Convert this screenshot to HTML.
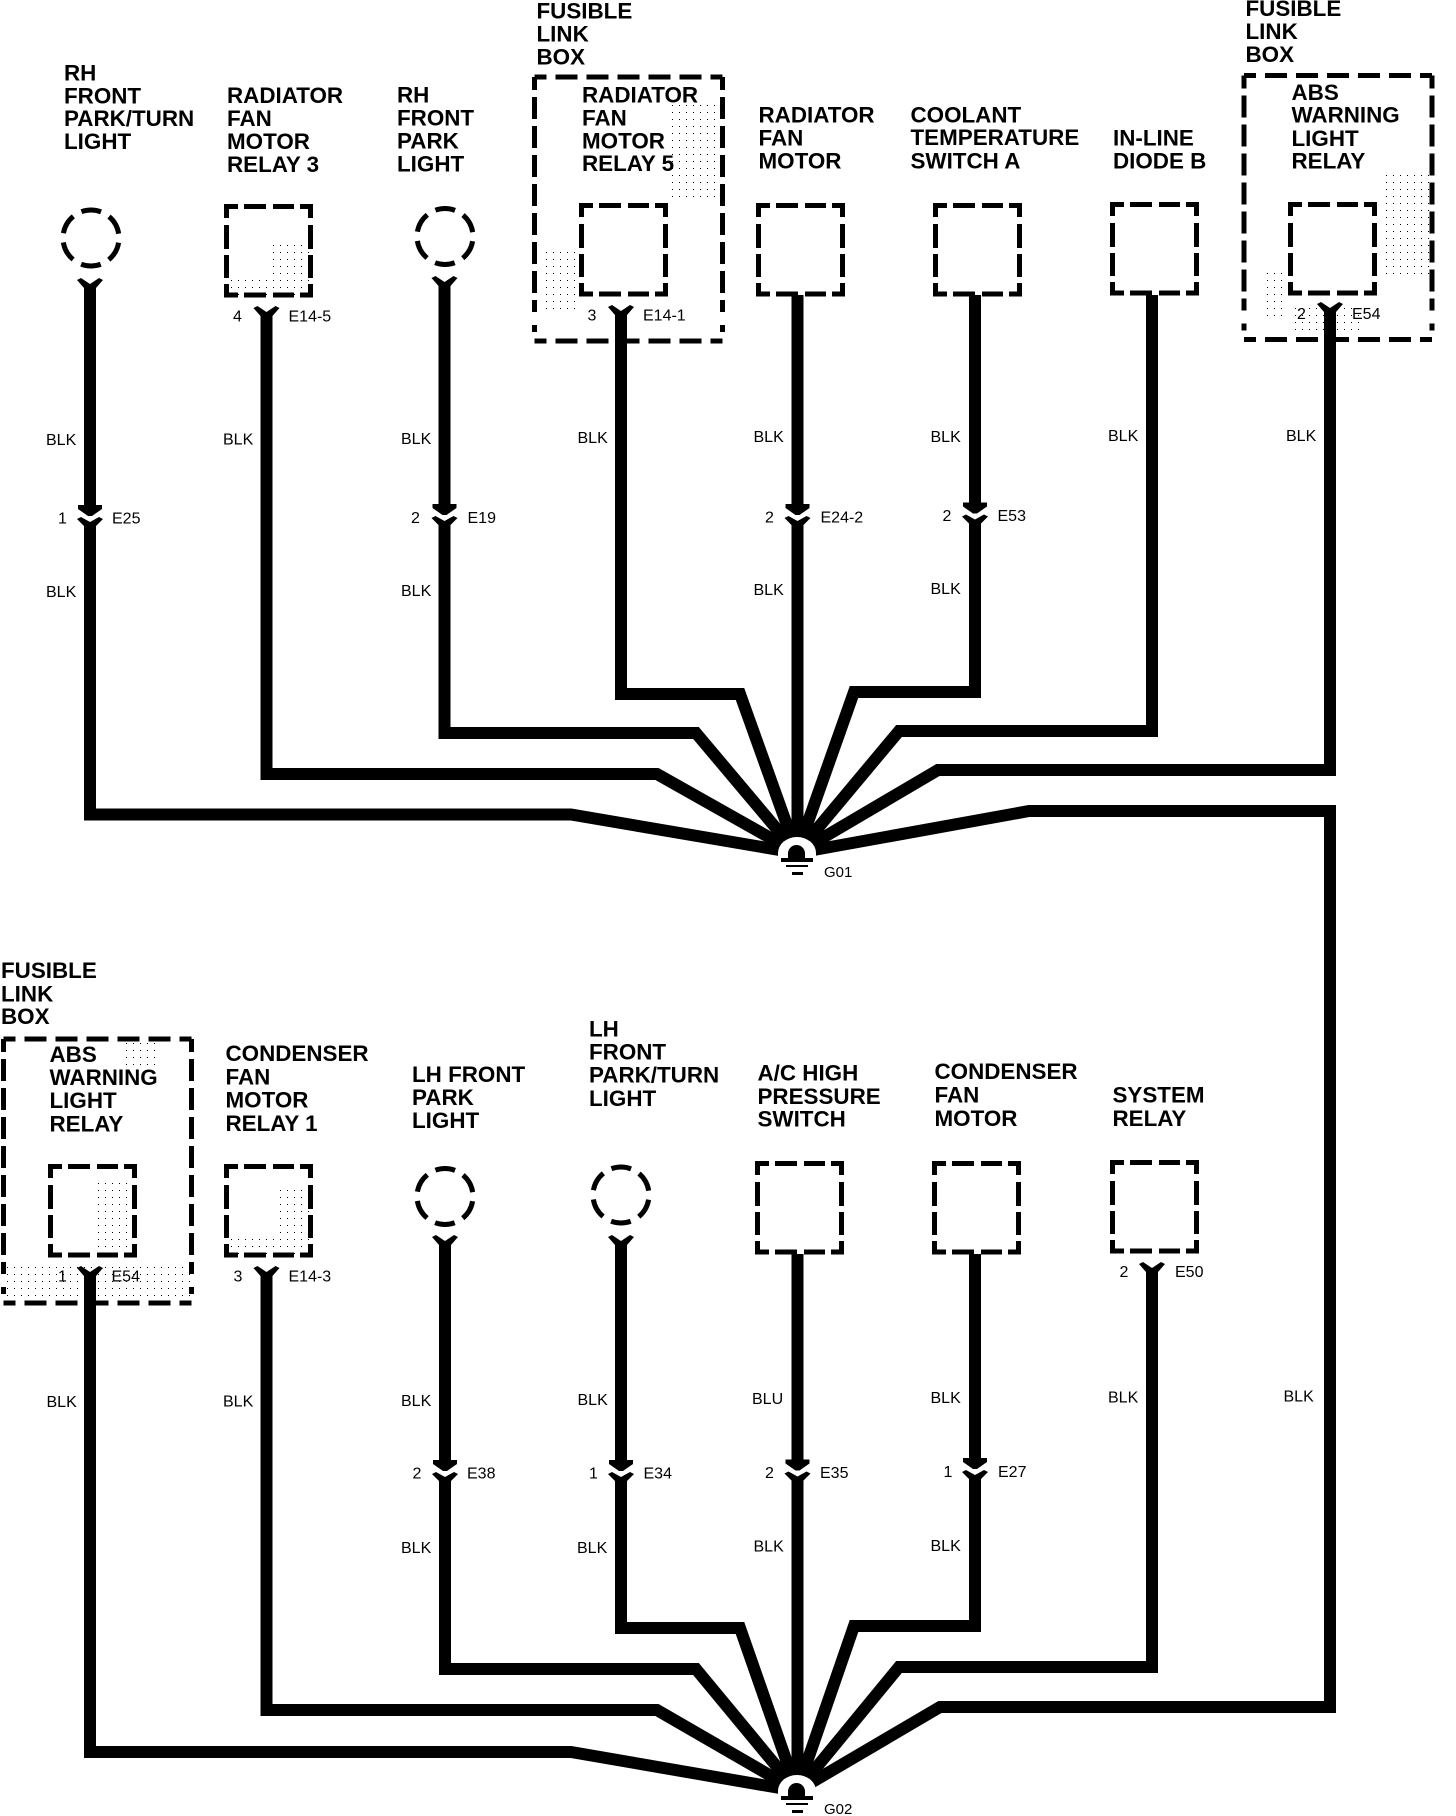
<!DOCTYPE html>
<html lang="en"><head><meta charset="utf-8"><title>Ground distribution wiring diagram</title>
<style>
html,body{margin:0;padding:0;background:#fff}
svg{display:block}
.t{font:bold 22.4px "Liberation Sans",sans-serif;fill:#000}
.s{font:16px "Liberation Sans",sans-serif;fill:#000}
.g{font:15px "Liberation Sans",sans-serif;fill:#000}
.w{fill:none;stroke:#000;stroke-width:12;stroke-linejoin:miter}
.d{fill:none;stroke:#000;stroke-width:5}
</style></head><body>
<svg xmlns="http://www.w3.org/2000/svg" width="1456" height="1816" viewBox="0 0 1456 1816">
<defs>
<pattern id="dots" width="7" height="7" patternUnits="userSpaceOnUse"><rect width="1" height="1" fill="#000"/></pattern>
<path id="box" class="d" d="M2.5,14V2.5H14M20,2.5H42M49,2.5H70M76,2.5H86.5V14M2.5,21V45M2.5,51V74M2.5,80V91H14M20,91H42M49,91H70M76,91H86.5V80M86.5,21V45M86.5,51V74"/>
<g id="big" class="d">
<path d="M0,0H188" stroke-dasharray="12 9 22 9 22 9 22 9 22 9 22 9 12"/>
<path d="M0,264H188" stroke-dasharray="12 9 22 9 22 9 22 9 22 9 22 9 12"/>
<path d="M0,0V264" stroke-dasharray="13 7 22 7 22 7 22 7 22 7 22 7 22 7 22 7 12"/>
<path d="M188,0V264" stroke-dasharray="13 7 22 7 22 7 22 7 22 7 22 7 22 7 22 7 12"/>
</g>
<circle id="lamp" class="d" r="28" stroke-dasharray="20 9.32" stroke-dashoffset="-4.7"/>
<polygon id="y" points="-13,1 -9,-1 0,5 9,-1 13,1 6,9 6,12 -6,12 -6,9"/>
<g id="mid">
<polygon points="-6,-16 6,-16 6,-13 12,-13 12,-9 2,-2 -2,-2 -12,-9 -12,-13 -6,-13"/>
<polygon points="-13,1 -9,-1 0,4 9,-1 13,1 6,8 6,11 -6,11 -6,8"/>
</g>
<g id="gnd">
<path d="M778,855V853A19,16 0 0 1 816,853V882H778Z" fill="#fff"/>
<path d="M788,858V853.500A8.500,8.500 0 0 1 805,853.500V858Z"/>
<rect x="781" y="858" width="32" height="4"/>
<rect x="786" y="865" width="22" height="2"/>
<rect x="792" y="872" width="11" height="3"/>
</g>
</defs>

<!-- faint print stipple -->
<rect x="270" y="240" width="40" height="55" fill="url(#dots)"/>
<rect x="228" y="275" width="40" height="20" fill="url(#dots)"/>
<rect x="545" y="250" width="30" height="60" fill="url(#dots)"/>
<rect x="670" y="100" width="50" height="100" fill="url(#dots)"/>
<rect x="1380" y="170" width="50" height="110" fill="url(#dots)"/>
<rect x="1265" y="270" width="20" height="50" fill="url(#dots)"/>
<rect x="1295" y="305" width="70" height="30" fill="url(#dots)"/>
<rect x="120" y="1040" width="40" height="30" fill="url(#dots)"/>
<rect x="95" y="1180" width="38" height="70" fill="url(#dots)"/>
<rect x="5" y="1262" width="185" height="40" fill="url(#dots)"/>
<rect x="275" y="1185" width="36" height="70" fill="url(#dots)"/>
<rect x="228" y="1235" width="48" height="20" fill="url(#dots)"/>

<!-- top wires -->
<path class="w" d="M90,285V508M90,523V814.500H571L797,853"/>
<path class="w" d="M266.500,313V774H657L797,853"/>
<path class="w" d="M444.500,283V507M444.500,522V733H696L797,853"/>
<path class="w" d="M621,312V694H740L797,853"/>
<path class="w" d="M797.500,295V507M797.500,522V853"/>
<path class="w" d="M975,295V505M975,521V692H854L797,853"/>
<path class="w" d="M1152,295V731H899L797,853"/>
<path class="w" d="M1330,309V770H938L797,853"/>
<path class="w" d="M797,853L1029,811H1330V1707H940L797,1791"/>

<!-- bottom wires -->
<path class="w" d="M90,1273V1752H571L797,1791"/>
<path class="w" d="M266.500,1273V1710H657L797,1791"/>
<path class="w" d="M445,1242V1463M445,1478V1669H696L797,1791"/>
<path class="w" d="M621,1242V1463M621,1478V1628H740L797,1791"/>
<path class="w" d="M797.500,1254V1462M797.500,1478V1791"/>
<path class="w" d="M975,1254V1461M975,1476V1626H854L797,1791"/>
<path class="w" d="M1152,1269V1667H899L797,1791"/>

<!-- Y connectors -->
<use href="#y" x="90" y="279"/><use href="#y" x="266.500" y="307"/><use href="#y" x="444.500" y="277"/>
<use href="#y" x="621" y="306"/><use href="#y" x="1330" y="303"/>
<use href="#y" x="90" y="1267"/><use href="#y" x="266.500" y="1267"/><use href="#y" x="445" y="1236"/>
<use href="#y" x="621" y="1236"/><use href="#y" x="1152" y="1263"/>

<!-- inline connectors -->
<use href="#mid" x="90" y="518"/><use href="#mid" x="444.500" y="517"/><use href="#mid" x="797.500" y="517"/><use href="#mid" x="975" y="515.500"/>
<use href="#mid" x="445" y="1473"/><use href="#mid" x="621" y="1473"/><use href="#mid" x="797.500" y="1472.500"/><use href="#mid" x="975" y="1471"/>

<!-- lamps -->
<use href="#lamp" x="91" y="238"/><use href="#lamp" x="445" y="236.500"/>
<use href="#lamp" x="445" y="1196.500"/><use href="#lamp" x="621" y="1195"/>

<!-- boxes -->
<use href="#box" x="224" y="204"/><use href="#box" x="579" y="203"/><use href="#box" x="756" y="203"/>
<use href="#box" x="933" y="203"/><use href="#box" x="1110" y="202"/><use href="#box" x="1288" y="202"/>
<use href="#box" x="48" y="1164"/><use href="#box" x="224" y="1164"/><use href="#box" x="755" y="1161"/>
<use href="#box" x="932" y="1161"/><use href="#box" x="1110" y="1160"/>
<use href="#big" x="534.500" y="77"/><use href="#big" x="1244" y="75.500"/><use href="#big" x="3.500" y="1039"/>

<!-- grounds -->
<use href="#gnd"/><use href="#gnd" y="938"/>
<text class="g" x="824" y="877">G01</text><text class="g" x="824" y="1814">G02</text>

<!-- top titles -->
<text class="t" x="64" y="80.500">RH</text><text class="t" x="64" y="103.500">FRONT</text><text class="t" x="64" y="126">PARK/TURN</text><text class="t" x="64" y="149">LIGHT</text>
<text class="t" x="227" y="103">RADIATOR</text><text class="t" x="227" y="126">FAN</text><text class="t" x="227" y="149">MOTOR</text><text class="t" x="227" y="172">RELAY 3</text>
<text class="t" x="397" y="102.500">RH</text><text class="t" x="397" y="125.500">FRONT</text><text class="t" x="397" y="148.500">PARK</text><text class="t" x="397" y="171.500">LIGHT</text>
<text class="t" x="536.500" y="18.500">FUSIBLE</text><text class="t" x="536.500" y="41.500">LINK</text><text class="t" x="536.500" y="64.500">BOX</text>
<text class="t" x="582" y="102.500">RADIATOR</text><text class="t" x="582" y="125.500">FAN</text><text class="t" x="582" y="148.500">MOTOR</text><text class="t" x="582" y="171">RELAY 5</text>
<text class="t" x="758.500" y="122.500">RADIATOR</text><text class="t" x="758.500" y="145.500">FAN</text><text class="t" x="758.500" y="168.500">MOTOR</text>
<text class="t" x="910.500" y="122.500">COOLANT</text><text class="t" x="910.500" y="145">TEMPERATURE</text><text class="t" x="910.500" y="168.500">SWITCH A</text>
<text class="t" x="1113" y="145.500">IN-LINE</text><text class="t" x="1113" y="168.500">DIODE B</text>
<text class="t" x="1245.500" y="16">FUSIBLE</text><text class="t" x="1245.500" y="39">LINK</text><text class="t" x="1245.500" y="62">BOX</text>
<text class="t" x="1291.500" y="100">ABS</text><text class="t" x="1291.500" y="122.500">WARNING</text><text class="t" x="1291.500" y="146">LIGHT</text><text class="t" x="1291.500" y="168.500">RELAY</text>

<!-- bottom titles -->
<text class="t" x="1" y="978">FUSIBLE</text><text class="t" x="1" y="1001.500">LINK</text><text class="t" x="1" y="1024">BOX</text>
<text class="t" x="49.500" y="1062">ABS</text><text class="t" x="49.500" y="1085">WARNING</text><text class="t" x="49.500" y="1108">LIGHT</text><text class="t" x="49.500" y="1131.500">RELAY</text>
<text class="t" x="225.500" y="1061">CONDENSER</text><text class="t" x="225.500" y="1084.500">FAN</text><text class="t" x="225.500" y="1107.500">MOTOR</text><text class="t" x="225.500" y="1131">RELAY 1</text>
<text class="t" x="412" y="1082">LH FRONT</text><text class="t" x="412" y="1105">PARK</text><text class="t" x="412" y="1128">LIGHT</text>
<text class="t" x="589" y="1036.500">LH</text><text class="t" x="589" y="1059.500">FRONT</text><text class="t" x="589" y="1082.500">PARK/TURN</text><text class="t" x="589" y="1106">LIGHT</text>
<text class="t" x="757.500" y="1080.500">A/C HIGH</text><text class="t" x="757.500" y="1104">PRESSURE</text><text class="t" x="757.500" y="1126.500">SWITCH</text>
<text class="t" x="934.500" y="1079">CONDENSER</text><text class="t" x="934.500" y="1102.500">FAN</text><text class="t" x="934.500" y="1126">MOTOR</text>
<text class="t" x="1112.500" y="1102.500">SYSTEM</text><text class="t" x="1112.500" y="1126">RELAY</text>

<!-- top small labels -->
<text class="s" x="46" y="445">BLK</text><text class="s" x="46" y="597">BLK</text>
<text class="s" x="223" y="444.500">BLK</text>
<text class="s" x="401" y="444">BLK</text><text class="s" x="401" y="596">BLK</text>
<text class="s" x="577.500" y="443">BLK</text>
<text class="s" x="753.500" y="442">BLK</text><text class="s" x="753.500" y="595">BLK</text>
<text class="s" x="930.500" y="442">BLK</text><text class="s" x="930.500" y="594">BLK</text>
<text class="s" x="1108" y="441">BLK</text><text class="s" x="1286" y="441">BLK</text>
<text class="s" x="58" y="523.500">1</text><text class="s" x="112" y="523.500">E25</text>
<text class="s" x="411" y="523">2</text><text class="s" x="467.500" y="523">E19</text>
<text class="s" x="233" y="321.500">4</text><text class="s" x="288.500" y="321.500">E14-5</text>
<text class="s" x="587.500" y="320.500">3</text><text class="s" x="643" y="320.500">E14-1</text>
<text class="s" x="765" y="522.500">2</text><text class="s" x="820.500" y="522.500">E24-2</text>
<text class="s" x="942.500" y="521">2</text><text class="s" x="997.500" y="521">E53</text>
<text class="s" x="1297" y="319">2</text><text class="s" x="1352" y="319">E54</text>

<!-- bottom small labels -->
<text class="s" x="58" y="1281.500">1</text><text class="s" x="111.500" y="1281.500">E54</text>
<text class="s" x="233.500" y="1281.500">3</text><text class="s" x="288.500" y="1281.500">E14-3</text>
<text class="s" x="1119.500" y="1277">2</text><text class="s" x="1175" y="1277">E50</text>
<text class="s" x="46.500" y="1407">BLK</text><text class="s" x="223" y="1406.500">BLK</text>
<text class="s" x="401" y="1406">BLK</text><text class="s" x="577.500" y="1405">BLK</text>
<text class="s" x="752" y="1404">BLU</text><text class="s" x="930.500" y="1403">BLK</text>
<text class="s" x="1108" y="1402.500">BLK</text><text class="s" x="1283.500" y="1401.500">BLK</text>
<text class="s" x="412.500" y="1478.500">2</text><text class="s" x="467" y="1478.500">E38</text>
<text class="s" x="589" y="1478.500">1</text><text class="s" x="643.500" y="1478.500">E34</text>
<text class="s" x="765" y="1478">2</text><text class="s" x="820" y="1478">E35</text>
<text class="s" x="943.500" y="1477">1</text><text class="s" x="998" y="1477">E27</text>
<text class="s" x="401" y="1553">BLK</text><text class="s" x="577" y="1553">BLK</text>
<text class="s" x="753.500" y="1551.500">BLK</text><text class="s" x="930.500" y="1551">BLK</text>
</svg>
</body></html>
